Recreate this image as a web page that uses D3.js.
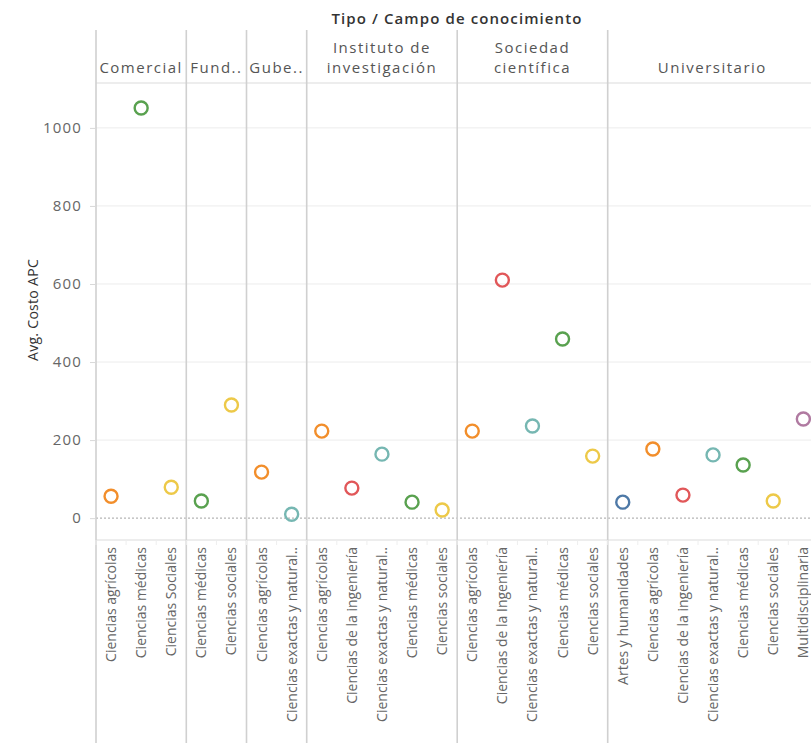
<!DOCTYPE html>
<html>
<head>
<meta charset="utf-8">
<script src="https://cdn.jsdelivr.net/npm/d3@7"></script>
<style>
  body { margin: 0; background: #fff; overflow: hidden; }
  text { font-family: "Open Sans", sans-serif; }
</style>
</head>
<body>
<div id="chart"></div>
<script>
// groups (Tipo) and their categories (Campo de conocimiento)
var groups = ["Comercial", "Fund..", "Gube..", "Instituto de\ninvestigación", "Sociedad\ncientífica", "Universitario"];
var categories = [
    ["Ciencias agrícolas", "Ciencias médicas", "Ciencias Sociales"],
    ["Ciencias médicas", "Ciencias sociales"],
    ["Ciencias agrícolas", "Ciencias exactas y natural.."],
    ["Ciencias agrícolas", "Ciencias de la ingeniería", "Ciencias exactas y natural..", "Ciencias médicas", "Ciencias sociales"],
    ["Ciencias agrícolas", "Ciencias de la Ingeniería", "Ciencias exactas y natural..", "Ciencias médicas", "Ciencias sociales"],
    ["Artes y humanidades", "Ciencias agrícolas", "Ciencias de la ingeniería", "Ciencias exactas y natural..", "Ciencias médicas", "Ciencias sociales", "Multidisciplinaria"]
];
var values = [
    [56, 1051, 79],
    [44, 290],
    [118, 10],
    [223, 77, 164, 41, 21],
    [223, 610, 236, 459, 159],
    [41, 177, 59, 162, 136, 44, 254]
];
var yTicks = [0, 200, 400, 600, 800, 1000];

var colorOf = {
    "Artes y humanidades": "#4e79a7",
    "Ciencias agrícolas": "#f28e2b",
    "Ciencias de la ingeniería": "#e15759",
    "Ciencias de la Ingeniería": "#e15759",
    "Ciencias exactas y natural..": "#76b7b2",
    "Ciencias médicas": "#59a14f",
    "Ciencias sociales": "#edc948",
    "Ciencias Sociales": "#edc948",
    "Multidisciplinaria": "#b07aa1"
};

var W = 811, H = 743;
var left = 96, headerTop = 30, headerBottom = 83, plotBottom = 540;

var points = [];
var keys = [];
categories.forEach(function (cats, g) {
    cats.forEach(function (c, i) {
        var k = g + "|" + i;
        keys.push(k);
        points.push({key: k, group: g, cat: c, value: values[g][i]});
    });
});

var svg = d3.select("#chart").append("svg")
    .attr("width", W)
    .attr("height", H);

var x = d3.scaleBand()
    .domain(keys)
    .range([left, left + keys.length * 30.1]);

var y = d3.scaleLinear()
    .domain([-56, 1115])
    .range([plotBottom, headerBottom]);

// gridlines
svg.append("g").selectAll("line")
    .data(yTicks.filter(function (d) { return d !== 0; }))
    .enter().append("line")
    .attr("x1", left).attr("x2", W)
    .attr("y1", function (d) { return y(d); })
    .attr("y2", function (d) { return y(d); })
    .style("stroke", "#ececec")
    .style("stroke-width", 1);

// zero line
svg.append("line")
    .attr("x1", left).attr("x2", W)
    .attr("y1", y(0)).attr("y2", y(0))
    .style("stroke", "#b5b5b5")
    .style("stroke-width", 1.2)
    .style("stroke-dasharray", "2,2");

// y axis
var yAxis = d3.axisLeft(y).tickValues(yTicks).tickFormat(d3.format("d")).tickSize(5).tickPadding(8);
var ya = svg.append("g")
    .attr("transform", "translate(" + (left - 1) + ",0)")
    .call(yAxis);
ya.select(".domain").remove();
ya.selectAll(".tick line").style("stroke", "#d8d8d8");
ya.selectAll(".tick text")
    .style("font-size", "15px")
    .style("letter-spacing", "1.2px")
    .style("fill", "#666");

svg.append("text")
    .attr("transform", "translate(38," + 310 + ") rotate(-90)")
    .attr("text-anchor", "middle")
    .style("font-size", "14px")
    .style("letter-spacing", "0.3px")
    .style("fill", "#333")
    .text("Avg. Costo APC");

// header title
svg.append("text")
    .attr("x", 457).attr("y", 24)
    .attr("text-anchor", "middle")
    .style("font-size", "15px")
    .style("font-weight", 600)
    .style("letter-spacing", "1.1px")
    .style("fill", "#333")
    .text("Tipo / Campo de conocimiento");

// horizontal rules
[headerBottom, plotBottom].forEach(function (yy) {
    svg.append("line")
        .attr("x1", left).attr("x2", W)
        .attr("y1", yy).attr("y2", yy)
        .style("stroke", "#dcdcdc")
        .style("stroke-width", 1.2);
});

// group separators and headers
var start = 0;
groups.forEach(function (g, gi) {
    var n = categories[gi].length;
    var x0 = x(keys[start]);
    var x1 = x(keys[start + n - 1]) + x.bandwidth();
    svg.append("line")
        .attr("x1", x0).attr("x2", x0)
        .attr("y1", headerTop).attr("y2", H)
        .style("stroke", "#d0d0d0")
        .style("stroke-width", 1.6);
    var cx = gi === groups.length - 1 ? (x0 + W) / 2 + 3 : (x0 + x1) / 2;
    var lines = g.split("\n");
    var t = svg.append("text")
        .attr("text-anchor", "middle")
        .style("font-size", "15px")
        .style("letter-spacing", "1.5px")
        .style("fill", "#555");
    lines.forEach(function (l, li) {
        t.append("tspan")
            .attr("x", cx)
            .attr("y", 73 - (lines.length - 1 - li) * 20)
            .text(l);
    });
    start += n;
});

// x labels
svg.append("g").selectAll("text")
    .data(points)
    .enter().append("text")
    .attr("transform", function (d) {
        return "translate(" + (x(d.key) + x.bandwidth() / 2 + 5) + "," + 547 + ") rotate(-90)";
    })
    .attr("text-anchor", "end")
    .style("font-size", "14px")
    .style("fill", "#666")
    .text(function (d) { return d.cat; });

// small ticks between columns in the label area
svg.append("g").selectAll("line")
    .data(points)
    .enter().append("line")
    .attr("x1", function (d) { return x(d.key); })
    .attr("x2", function (d) { return x(d.key); })
    .attr("y1", plotBottom).attr("y2", plotBottom + 5)
    .style("stroke", "#eeeeee");

// marks
svg.append("g").selectAll("circle")
    .data(points)
    .enter().append("circle")
    .attr("cx", function (d) { return x(d.key) + x.bandwidth() / 2; })
    .attr("cy", function (d) { return y(d.value); })
    .attr("r", 6.5)
    .style("fill", "none")
    .style("stroke", function (d) { return colorOf[d.cat]; })
    .style("stroke-width", 2.4);
</script>
</body>
</html>
